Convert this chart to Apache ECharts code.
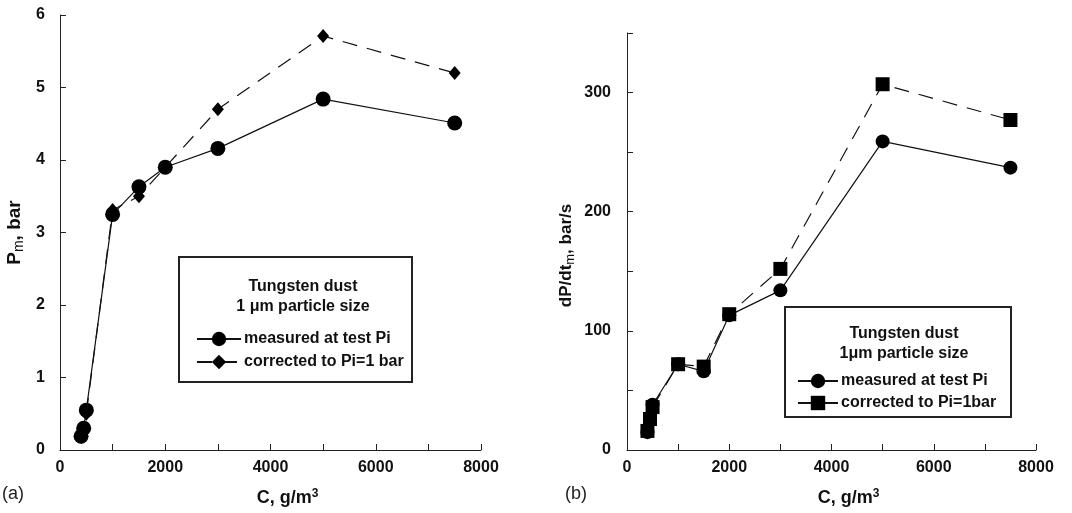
<!DOCTYPE html>
<html>
<head>
<meta charset="utf-8">
<script src="https://cdn.jsdelivr.net/npm/echarts@6/dist/echarts.min.js"></script>
<style>
html,body{margin:0;padding:0;background:#fff;}
#chart{width:1072px;height:513px;}
</style>
</head>
<body>
<div id="chart"></div>
<script>
// ---- data ----
const concentration = [400, 450, 500, 1000, 1500, 2000, 3000, 5000, 7500];
const pmMeasured = [0.19, 0.30, 0.55, 3.25, 3.63, 3.90, 4.16, 4.84, 4.51];
const pmCorrected = [0.18, 0.28, 0.50, 3.31, 3.50, 3.90, 4.70, 5.71, 5.20];
const rateMeasured = [15, 25, 38, 72, 66, 113, 134, 259, 237];
const rateCorrected = [16, 26, 36, 72, 70, 114, 152, 307, 277];
const xTicks = [0, 2000, 4000, 6000, 8000];
const pmTicks = [0, 1, 2, 3, 4, 5, 6];
const rateTicks = [0, 100, 200, 300];
const seriesNames = ['measured at test Pi', 'corrected to Pi=1 bar', 'corrected to Pi=1bar'];

const FONT = '"Liberation Sans", Arial, sans-serif';
const pair = (xs, ys) => xs.map((x, i) => [x, ys[i]]);

const xAxisBase = (gridIndex) => ({
  type: 'value', gridIndex, min: 0, max: 8000, interval: 1000,
  name: '{a|C, g/m}{p|3}', nameLocation: 'middle', nameGap: 38,
  nameTextStyle: {padding: [0, 0, 0, 34], rich: {
    a: {fontFamily: FONT, fontWeight: 'bold', fontSize: 18, color: '#111'},
    p: {fontFamily: FONT, fontWeight: 'bold', fontSize: 12, color: '#111', verticalAlign: 'top', padding: [0, 0, 8, 0]}
  }},
  axisLine: {lineStyle: {color: '#222', width: 1}},
  axisTick: {inside: true, length: 6, lineStyle: {color: '#222'}},
  axisLabel: {fontFamily: FONT, fontWeight: 'bold', fontSize: 16, color: '#111', margin: 10,
    formatter: v => xTicks.includes(v) ? String(v) : ''},
  splitLine: {show: false}
});

const option = {
  animation: false,
  backgroundColor: '#fff',
  grid: [
    {left: 60, top: 15, width: 421, height: 435},
    {left: 627, top: 33, width: 409, height: 417}
  ],
  xAxis: [xAxisBase(0), xAxisBase(1)],
  yAxis: [
    {
      type: 'value', gridIndex: 0, min: 0, max: 6, interval: 1,
      name: '{a|P}{s|m}{a|, bar}', nameLocation: 'middle', nameGap: 34,
      nameTextStyle: {rich: {
        a: {fontFamily: FONT, fontWeight: 'bold', fontSize: 19, color: '#111'},
        s: {fontFamily: FONT, fontWeight: 'normal', fontSize: 14, color: '#111', verticalAlign: 'bottom', padding: [8, 0, 0, 0]}
      }},
      axisLine: {show: true, lineStyle: {color: '#222', width: 1}},
      axisTick: {show: true, inside: true, length: 6, lineStyle: {color: '#222'}},
      axisLabel: {fontFamily: FONT, fontWeight: 'bold', fontSize: 16, color: '#111', margin: 15,
        formatter: v => pmTicks.includes(v) ? String(v) : ''},
      splitLine: {show: false}
    },
    {
      type: 'value', gridIndex: 1, min: 0, max: 350, interval: 50,
      name: '{a|dP/dt}{s|m}{a|, bar/s}', nameLocation: 'middle', nameGap: 50,
      nameTextStyle: {padding: [0, 28, 0, 0], rich: {
        a: {fontFamily: FONT, fontWeight: 'bold', fontSize: 17, color: '#111'},
        s: {fontFamily: FONT, fontWeight: 'normal', fontSize: 13, color: '#111', verticalAlign: 'bottom', padding: [8, 0, 0, 0]}
      }},
      axisLine: {show: true, lineStyle: {color: '#222', width: 1}},
      axisTick: {show: true, inside: true, length: 6, lineStyle: {color: '#222'}},
      axisLabel: {fontFamily: FONT, fontWeight: 'bold', fontSize: 16, color: '#111', margin: 16,
        formatter: v => rateTicks.includes(v) ? String(v) : ''},
      splitLine: {show: false}
    }
  ],
  title: [
    {text: 'Tungsten dust\n1 μm particle size', left: 298, top: 272, textAlign: 'center',
      textStyle: {fontFamily: FONT, fontWeight: 'bold', fontSize: 16, color: '#111', lineHeight: 20, align: 'center'}},
    {text: 'Tungsten dust\n1μm particle size', left: 899, top: 319, textAlign: 'center',
      textStyle: {fontFamily: FONT, fontWeight: 'bold', fontSize: 16, color: '#111', lineHeight: 20, align: 'center'}}
  ],
  legend: [
    {data: [seriesNames[0], seriesNames[1]], orient: 'vertical', left: 194, top: 329,
      itemWidth: 44, itemHeight: 18, itemGap: 7, padding: 2,
      textStyle: {fontFamily: FONT, fontWeight: 'bold', fontSize: 16, color: '#111', padding: [0, 0, 0, -2]}},
    {data: [seriesNames[0], seriesNames[2]], orient: 'vertical', left: 795, top: 371,
      itemWidth: 40, itemHeight: 18, itemGap: 6, padding: 2,
      textStyle: {fontFamily: FONT, fontWeight: 'bold', fontSize: 16, color: '#111', padding: [0, 0, 0, -2]}}
  ],
  graphic: [
    {type: 'rect', shape: {x: 179, y: 257, width: 233, height: 125}, style: {fill: 'none', stroke: '#222', lineWidth: 2}, silent: true},
    {type: 'rect', shape: {x: 785, y: 307, width: 226, height: 110}, style: {fill: 'none', stroke: '#222', lineWidth: 2}, silent: true},
    {type: 'text', left: 2, top: 485, style: {text: '(a)', font: '18px ' + FONT, fill: '#222'}},
    {type: 'text', left: 565, top: 485, style: {text: '(b)', font: '18px ' + FONT, fill: '#222'}}
  ],
  series: [
    {name: seriesNames[1], type: 'line', xAxisIndex: 0, yAxisIndex: 0, data: pair(concentration, pmCorrected),
      symbol: 'diamond', symbolSize: [12, 14], z: 3,
      lineStyle: {color: '#111', width: 1.2, type: [15, 10]}, itemStyle: {color: '#000'}},
    {name: seriesNames[0], type: 'line', xAxisIndex: 0, yAxisIndex: 0, data: pair(concentration, pmMeasured),
      symbol: 'circle', symbolSize: 15, z: 2,
      lineStyle: {color: '#111', width: 1.2, type: 'solid'}, itemStyle: {color: '#000'}},
    {name: seriesNames[0], type: 'line', xAxisIndex: 1, yAxisIndex: 1, data: pair(concentration, rateMeasured),
      symbol: 'circle', symbolSize: 14, z: 2,
      lineStyle: {color: '#111', width: 1.2, type: 'solid'}, itemStyle: {color: '#000'}},
    {name: seriesNames[2], type: 'line', xAxisIndex: 1, yAxisIndex: 1, data: pair(concentration, rateCorrected),
      symbol: 'rect', symbolSize: 14, z: 3,
      lineStyle: {color: '#111', width: 1.2, type: [15, 10]}, itemStyle: {color: '#000'}}
  ]
};

const chart = echarts.init(document.getElementById('chart'), null, {renderer: 'canvas'});
chart.setOption(option);
</script>
</body>
</html>
